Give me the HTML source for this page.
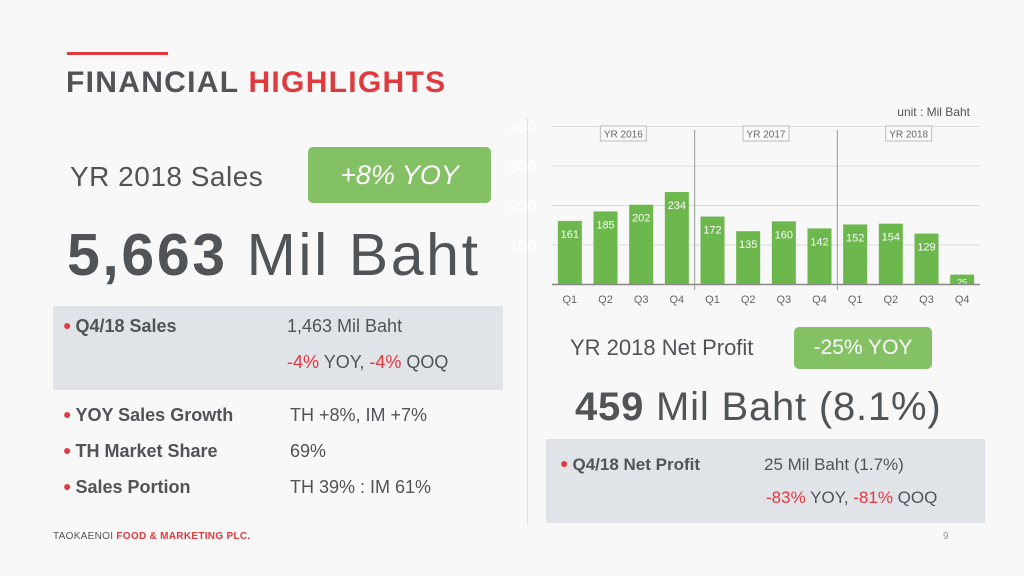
<!DOCTYPE html>
<html><head><meta charset="utf-8"><style>
body{margin:0;width:1024px;height:576px;background:#f8f8f8;position:relative;overflow:hidden;font-family:"Liberation Sans",sans-serif;color:#505456}
div,span{position:absolute}
.t{white-space:nowrap}
.red{color:#e0393e;position:static}
.b{font-weight:bold}
.dot{color:#e0393e;position:static;font-size:14px;vertical-align:2px;margin-right:4px}
</style></head><body>
<div style="left:67px;top:52px;width:101px;height:3px;background:#e0393e"></div>
<div class="t" style="left:66px;top:66px;font-size:30px;font-weight:bold;color:#505456;letter-spacing:1.3px">FINANCIAL <span class="red">HIGHLIGHTS</span></div>

<div class="t" style="left:70px;top:161px;font-size:28px;letter-spacing:0.5px">YR 2018 Sales</div>
<div style="left:308px;top:147px;width:183px;height:56px;background:#84c064;border-radius:5px;color:#fff;font-size:27px;font-style:italic;text-align:center;line-height:56px">+8% YOY</div>
<div class="t" style="left:67px;top:221px;font-size:59px;letter-spacing:2.6px"><span class="b" style="position:static">5,663</span> Mil Baht</div>

<div style="left:53px;top:306px;width:450px;height:84px;background:#e0e3e7"></div>
<div class="t" style="left:63px;top:316px;font-size:18px;font-weight:bold"><span class="dot">●</span>Q4/18 Sales</div>
<div class="t" style="left:287px;top:316px;font-size:18px">1,463 Mil Baht</div>
<div class="t" style="left:287px;top:352px;font-size:18px"><span class="red">-4%</span> YOY, <span class="red">-4%</span> QOQ</div>

<div class="t" style="left:63px;top:405px;font-size:18px;font-weight:bold"><span class="dot">●</span>YOY Sales Growth</div>
<div class="t" style="left:290px;top:405px;font-size:18px">TH +8%, IM +7%</div>
<div class="t" style="left:63px;top:441px;font-size:18px;font-weight:bold"><span class="dot">●</span>TH Market Share</div>
<div class="t" style="left:290px;top:441px;font-size:18px">69%</div>
<div class="t" style="left:63px;top:477px;font-size:18px;font-weight:bold"><span class="dot">●</span>Sales Portion</div>
<div class="t" style="left:290px;top:477px;font-size:18px">TH 39% : IM 61%</div>

<div style="left:527px;top:118px;width:1px;height:407px;background:#e2e2e2"></div>

<svg id="chart" style="position:absolute;left:0;top:0" width="1024" height="320"></svg>

<div class="t" style="left:570px;top:335px;font-size:22px">YR 2018 Net Profit</div>
<div style="left:794px;top:327px;width:138px;height:42px;background:#84c064;border-radius:5px;color:#fff;font-size:21px;text-align:center;line-height:42px">-25% YOY</div>
<div class="t" style="left:575px;top:385px;font-size:40px;letter-spacing:0.8px"><span class="b" style="position:static">459</span> Mil Baht (8.1%)</div>

<div style="left:546px;top:439px;width:439px;height:84px;background:#e0e3e7"></div>
<div class="t" style="left:560px;top:455px;font-size:17px;font-weight:bold"><span class="dot">●</span>Q4/18 Net Profit</div>
<div class="t" style="left:764px;top:455px;font-size:17px">25 Mil Baht (1.7%)</div>
<div class="t" style="left:766px;top:488px;font-size:17px"><span class="red">-83%</span> YOY, <span class="red">-81%</span> QOQ</div>

<div class="t" style="left:53px;top:531px;font-size:10px;letter-spacing:0.3px">TAOKAENOI <span class="red" style="font-weight:bold">FOOD &amp; MARKETING PLC.</span></div>
<div class="t" style="left:943px;top:531px;font-size:10px;color:#999">9</div>

<script>
const categories=["Q1","Q2","Q3","Q4","Q1","Q2","Q3","Q4","Q1","Q2","Q3","Q4"];
const profitValues=[161,185,202,234,172,135,160,142,152,154,129,25];
const yTicks=[100,200,300,400];
const yearLabels=["YR 2016","YR 2017","YR 2018"];
const NS="http://www.w3.org/2000/svg";
const svg=document.getElementById('chart');
const x0=552,x1=980,yBase=284.5,pxPer=0.395,bw=24;
const step=(x1-x0)/categories.length;
const xc=i=>x0+step*(i+0.5);
const y=v=>yBase-v*pxPer;
function mk(t,a){const e=document.createElementNS(NS,t);for(const k in a)e.setAttribute(k,a[k]);svg.appendChild(e);return e;}
yTicks.forEach(v=>{
 const g=mk('line',{x1:x0,x2:x1,y1:y(v),y2:y(v),stroke:'#dcdcdc','stroke-width':1});
 
 
 const t=mk('text',{x:536,y:y(v)+6,'text-anchor':'end','font-size':16,fill:'#ffffff','font-family':'Liberation Sans'});
 t.textContent=v;
 
 
});
profitValues.forEach((v,i)=>{
 const r=mk('rect',{x:xc(i)-bw/2,y:y(v),width:bw,height:yBase-y(v),fill:'#6db84c'});
 
 
 const t=mk('text',{x:xc(i),y:y(v)+(v>100?17:11),'text-anchor':'middle','font-size':v>100?11:9,fill:'#fff','font-family':'Liberation Sans'});
 t.textContent=v;
 
 
 const c=mk('text',{x:xc(i),y:303,'text-anchor':'middle','font-size':11,fill:'#666','font-family':'Liberation Sans'});
 c.textContent=categories[i];
 
 
});
const ax=mk('line',{x1:x0,x2:x1,y1:yBase,y2:yBase,stroke:'#888','stroke-width':1.5});


[4,8].forEach(i=>{
 const xd=x0+step*i;
 const l=mk('line',{x1:xd,x2:xd,y1:130,y2:290,stroke:'#999','stroke-width':1});
 
 
});
yearLabels.forEach((s,k)=>{
 const cx=x0+step*(4*k+2);
 const r=mk('rect',{x:cx-23,y:126,width:46,height:15,fill:'#fafafa',stroke:'#bbb','stroke-width':1});
 
 
 const t=mk('text',{x:cx,y:137.5,'text-anchor':'middle','font-size':10,fill:'#666','font-family':'Liberation Sans'});
 t.textContent=s;
 
 
});
const u=mk('text',{x:970,y:116,'text-anchor':'end','font-size':12,fill:'#555','font-family':'Liberation Sans'});
u.textContent='unit : Mil Baht';


</script>
</body></html>
